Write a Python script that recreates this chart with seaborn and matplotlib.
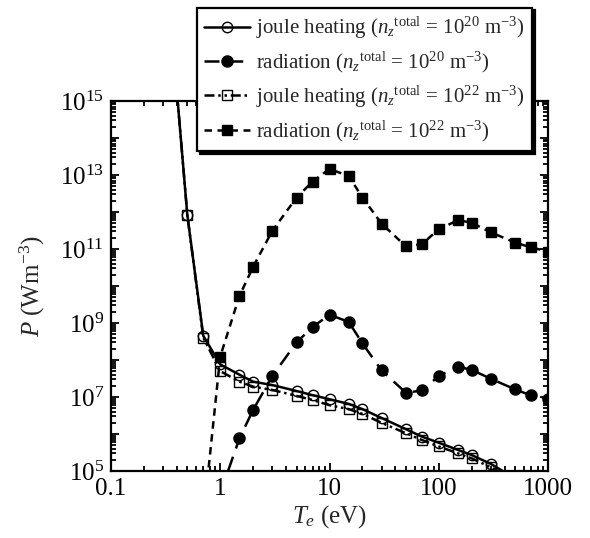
import numpy as np
import pandas as pd
import matplotlib
matplotlib.use("Agg")
import matplotlib.pyplot as plt
import seaborn as sns
from matplotlib.ticker import FixedLocator, LogLocator, NullFormatter, FixedFormatter

# electron temperature (eV)
te_joule = [0.4, 0.5, 0.7, 1, 1.5, 2, 3, 5, 7, 10, 15, 20, 30, 50, 70, 100, 150, 200, 300, 500]
te_rad20 = [1, 1.5, 2, 3, 5, 7, 10, 15, 20, 30, 50, 70, 100, 150, 200, 300, 500, 700, 1000]
te_rad22 = [0.7, 1, 1.5, 2, 3, 5, 7, 10, 15, 20, 30, 50, 70, 100, 150, 200, 300, 500, 700, 1000]

# power density (W m^-3)
joule20 = [2e15, 8.3e11, 4.5e8, 7.6e7, 4.0e7, 2.6e7, 2.1e7, 1.45e7, 1.12e7, 8.7e6,
           6.5e6, 4.7e6, 2.7e6, 1.35e6, 8.5e5, 5.8e5, 3.7e5, 2.7e5, 1.55e5, 6.3e4]
joule22 = [2e15, 8.3e11, 4.0e8, 5.0e7, 2.6e7, 1.9e7, 1.55e7, 1.07e7, 8.3e6, 6.0e6,
           4.7e6, 3.5e6, 2.0e6, 1.05e6, 6.9e5, 4.6e5, 3.0e5, 2.2e5, 1.26e5, 5.6e4]
rad20 = [2.5e4, 7.6e5, 4.5e6, 3.7e7, 3.0e8, 7.8e8, 1.66e9, 1.07e9, 2.8e8, 5.2e7,
         1.3e7, 1.5e7, 3.7e7, 6.6e7, 5.4e7, 3.1e7, 1.6e7, 1.1e7, 8.9e6]
rad22 = [5e3, 1.23e8, 5.4e9, 3.3e10, 3.1e11, 2.45e12, 6.6e12, 1.45e13, 9.3e12, 2.45e12,
         4.8e11, 1.17e11, 1.35e11, 3.4e11, 6.0e11, 5.1e11, 2.8e11, 1.48e11, 1.1e11, 8.5e10]

lab_j20 = r"joule heating ($\mathit{n_z}^{\mathrm{total}}$ = 10$^{20}$ m$^{\mathrm{-3}}$)"
lab_r20 = r"radiation ($\mathit{n_z}^{\mathrm{total}}$ = 10$^{20}$ m$^{\mathrm{-3}}$)"
lab_j22 = r"joule heating ($\mathit{n_z}^{\mathrm{total}}$ = 10$^{22}$ m$^{\mathrm{-3}}$)"
lab_r22 = r"radiation ($\mathit{n_z}^{\mathrm{total}}$ = 10$^{22}$ m$^{\mathrm{-3}}$)"

x_ticks = [0.1, 1, 10, 100, 1000]
x_ticklabels = ["0.1", "1", "10", "100", "1000"]

sns.set_style("ticks")
plt.rcParams["font.family"] = ["Liberation Serif", "DejaVu Serif"]
plt.rcParams["mathtext.fontset"] = "custom"
plt.rcParams["mathtext.rm"] = "Liberation Serif"
plt.rcParams["mathtext.it"] = "Liberation Serif:italic"
plt.rcParams["mathtext.default"] = "regular"

fig = plt.figure(figsize=(5.9, 5.38), dpi=100)
ax = fig.add_axes([0.188, 0.1245, 0.741, 0.688])

common = dict(ax=ax, color="black", linewidth=1.8, markeredgecolor="black",
              markeredgewidth=1.0, sort=False, clip_on=True)

sns.lineplot(x=te_joule, y=joule20, marker="o", markersize=7.5, markerfacecolor="none",
             linestyle="-", label=lab_j20, **common)
sns.lineplot(x=te_rad20, y=rad20, marker="o", markersize=8, markerfacecolor="black",
             linestyle=(0, (6, 3.5)), label=lab_r20, **common)
sns.lineplot(x=te_joule, y=joule22, marker="s", markersize=6.5, markerfacecolor="none",
             linestyle=(0, (4, 1.5, 1, 1.5, 1, 1.5)), label=lab_j22, **common)
sns.lineplot(x=te_rad22, y=rad22, marker="s", markersize=7.5, markerfacecolor="black",
             linestyle=(0, (3, 2.2)), label=lab_r22, **common)

ax.set_xscale("log")
ax.set_yscale("log")
ax.set_xlim(0.1, 1000)
ax.set_ylim(1e5, 1e15)

ax.xaxis.set_major_locator(FixedLocator(x_ticks))
ax.xaxis.set_major_formatter(FixedFormatter(x_ticklabels))
ax.xaxis.set_minor_locator(LogLocator(base=10, subs=np.arange(2, 10), numticks=20))
ax.xaxis.set_minor_formatter(NullFormatter())

y_major = [10.0 ** k for k in range(5, 16)]
y_labels = [r"10$^{%d}$" % k if k % 2 == 1 else "" for k in range(5, 16)]
ax.yaxis.set_major_locator(FixedLocator(y_major))
ax.yaxis.set_major_formatter(FixedFormatter(y_labels))
ax.yaxis.set_minor_locator(LogLocator(base=10, subs=np.arange(2, 10), numticks=20))
ax.yaxis.set_minor_formatter(NullFormatter())

ax.tick_params(which="both", direction="in", top=True, right=True, width=1.3, colors="black")
ax.tick_params(which="major", length=6, labelsize=18, pad=5)
ax.tick_params(which="minor", length=3.5)
for s in ax.spines.values():
    s.set_linewidth(1.6)
    s.set_color("black")

ax.set_xlabel(r"$\mathit{T}_{\mathit{e}}$ (eV)", fontsize=18, labelpad=2)
ax.set_ylabel(r"$\mathit{P}$ (Wm$^{\mathrm{-3}}$)", fontsize=18, labelpad=9)

leg = ax.legend(loc="upper left", bbox_to_anchor=(0.334, 0.986), bbox_transform=fig.transFigure,
                fontsize=15, frameon=True, fancybox=False, shadow={"color": "black", "alpha": 1},
                handlelength=2.2, handletextpad=0.3, labelspacing=0.42, borderpad=0.35,
                borderaxespad=0, framealpha=1)
leg.get_frame().set_edgecolor("black")
leg.get_frame().set_linewidth(1.6)
leg.set_zorder(10)

fig.savefig("out.png", dpi=100)
